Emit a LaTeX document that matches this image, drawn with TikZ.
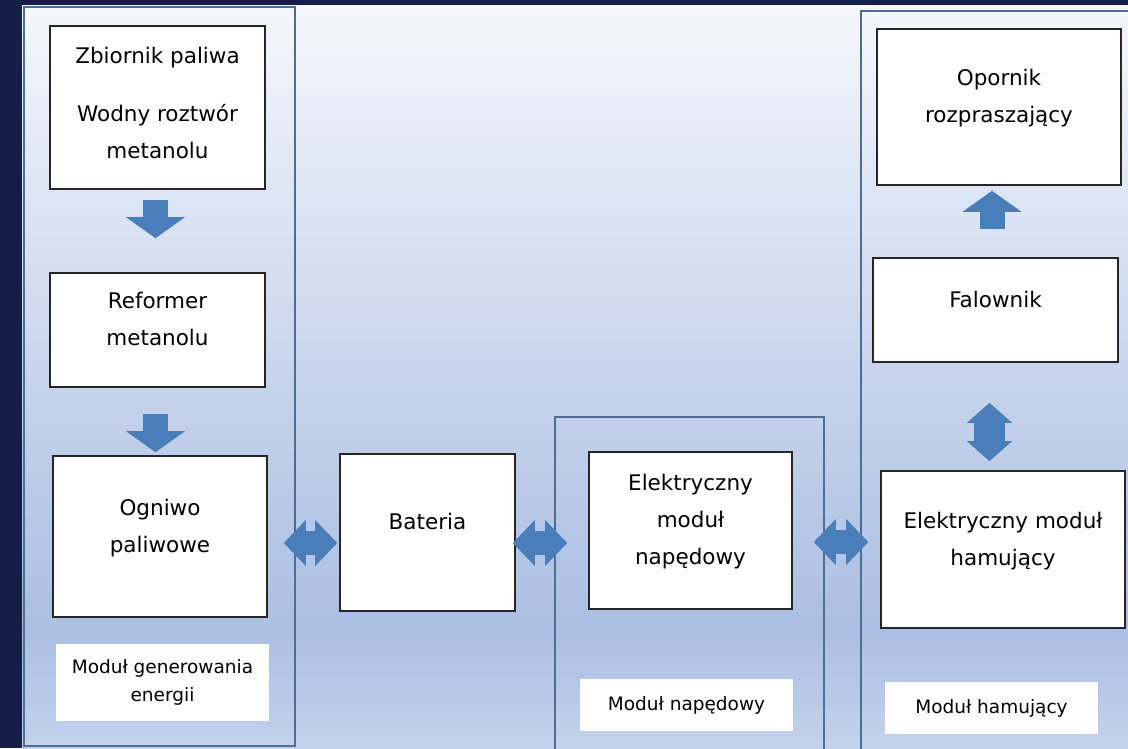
\documentclass[tikz,border=0pt]{standalone}
\usepackage{fontspec}
\setmainfont{DejaVu Sans}
\usepackage{tikz}
\usetikzlibrary{arrows.meta}

\definecolor{nightbg}{HTML}{141E47}
\definecolor{gradtop}{HTML}{F5F7FC}
\definecolor{gradupper}{HTML}{DCE5F4}
\definecolor{gradmid}{HTML}{C2D0EA}
\definecolor{gradlow}{HTML}{ABBFE4}
\definecolor{gradbot}{HTML}{C3D2EC}
\definecolor{panelline}{HTML}{4F6D92}
\definecolor{arrowblue}{HTML}{4A7EBB}

\begin{document}
\begin{tikzpicture}[
  x=1pt, y=-1pt,
  box/.style={rectangle, draw=black!85, line width=1.6pt, fill=white, inner sep=0pt, align=center, text depth=22pt, font={\fontsize{21.5pt}{37pt}\selectfont}},
  modlabel/.style={rectangle, fill=white, inner sep=0pt, align=center, font={\fontsize{18.5pt}{28pt}\selectfont}},
  panel/.style={rectangle, draw=panelline, line width=1.5pt, inner sep=0pt},
  fatarrow/.style={draw=arrowblue, line width=25pt, -{Triangle[length=21pt, width=59pt, line width=0pt]}},
  sidearrow/.style={draw=arrowblue, line width=24pt, {Triangle[length=22pt, width=46pt, line width=0pt]}-{Triangle[length=22pt, width=46pt, line width=0pt]}},
  updownarrow/.style={draw=arrowblue, line width=31pt, {Triangle[length=20pt, width=45pt, line width=0pt]}-{Triangle[length=20pt, width=45pt, line width=0pt]}}
]

% background
\useasboundingbox (0,0) rectangle (1128,748);
\fill[nightbg] (0,0) rectangle (1128,748);
\shade[top color=gradtop, bottom color=gradupper] (22,5) rectangle (1128,200.5);
\shade[top color=gradupper, bottom color=gradmid] (22,200) rectangle (1128,420.5);
\shade[top color=gradmid, bottom color=gradlow] (22,420) rectangle (1128,630.5);
\shade[top color=gradlow, bottom color=gradbot] (22,630) rectangle (1128,748);

% modules
\node[panel, minimum width=271pt, minimum height=739pt] (genpanel) at (159.5,376.5) {};
\node[panel, minimum width=269pt, minimum height=336pt] (napedpanel) at (689.5,585) {};
\node[panel, minimum width=268pt, minimum height=742pt] (hampanel) at (995,382) {};

% generation module
\node[box, minimum width=215pt, minimum height=163pt, text depth=10pt] (zbiornik) at (157.5,107.5) {Zbiornik paliwa\\[21pt]Wodny roztwór\\metanolu};
\node[box, minimum width=215pt, minimum height=114pt] (reformer) at (157.5,330) {Reformer\\metanolu};
\node[box, minimum width=214pt, minimum height=161pt] (ogniwo) at (160,536.5) {Ogniwo\\paliwowe};
\node[modlabel, minimum width=213pt, minimum height=77pt] (genlabel) at (162.5,682.5) {Moduł generowania\\energii};

\node[box, minimum width=175pt, minimum height=157pt] (bateria) at (427.5,532.5) {Bateria};

% drive module
\node[box, minimum width=203pt, minimum height=157pt] (naped) at (690.5,530.5) {Elektryczny\\moduł\\napędowy};
\node[modlabel, minimum width=213pt, minimum height=52pt] (napedlabel) at (686.5,705) {Moduł napędowy};

% braking module
\node[box, minimum width=244pt, minimum height=156pt] (opornik) at (999,107) {Opornik\\rozpraszający};
\node[box, minimum width=245pt, minimum height=104pt] (falownik) at (995.5,310) {Falownik};
\node[box, minimum width=244pt, minimum height=157pt] (hamujacy) at (1003,549.5) {Elektryczny moduł\\hamujący};
\node[modlabel, minimum width=213pt, minimum height=52pt] (hamlabel) at (991.5,708) {Moduł hamujący};

% flows
\draw[fatarrow, shorten <=10pt, shorten >=34pt] ([xshift=-2pt]zbiornik.south) -- ([xshift=-2pt]reformer.north);
\draw[fatarrow, shorten <=26pt, shorten >=3pt] ([xshift=-2pt]reformer.south) -- ([xshift=-4.5pt]ogniwo.north);
\draw[fatarrow, shorten <=28pt, shorten >=5pt] ([xshift=-3.5pt]falownik.north) -- ([xshift=-7pt]opornik.south);
\draw[updownarrow, shorten <=40pt, shorten >=9pt] ([xshift=-6pt]falownik.south) -- ([xshift=-13.5pt]hamujacy.north);

\draw[sidearrow, shorten <=16pt, shorten >=2pt] ([yshift=-6.5pt]ogniwo.east) -- ([yshift=-10.5pt]bateria.west);
\draw[sidearrow, shorten <=-3pt, shorten >=21pt] ([yshift=-10.5pt]bateria.east) -- ([yshift=-12.5pt]naped.west);
\draw[sidearrow, shorten <=21pt, shorten >=12pt] ([yshift=-11.5pt]naped.east) -- ([yshift=7.5pt]hamujacy.west);

\end{tikzpicture}
\end{document}
